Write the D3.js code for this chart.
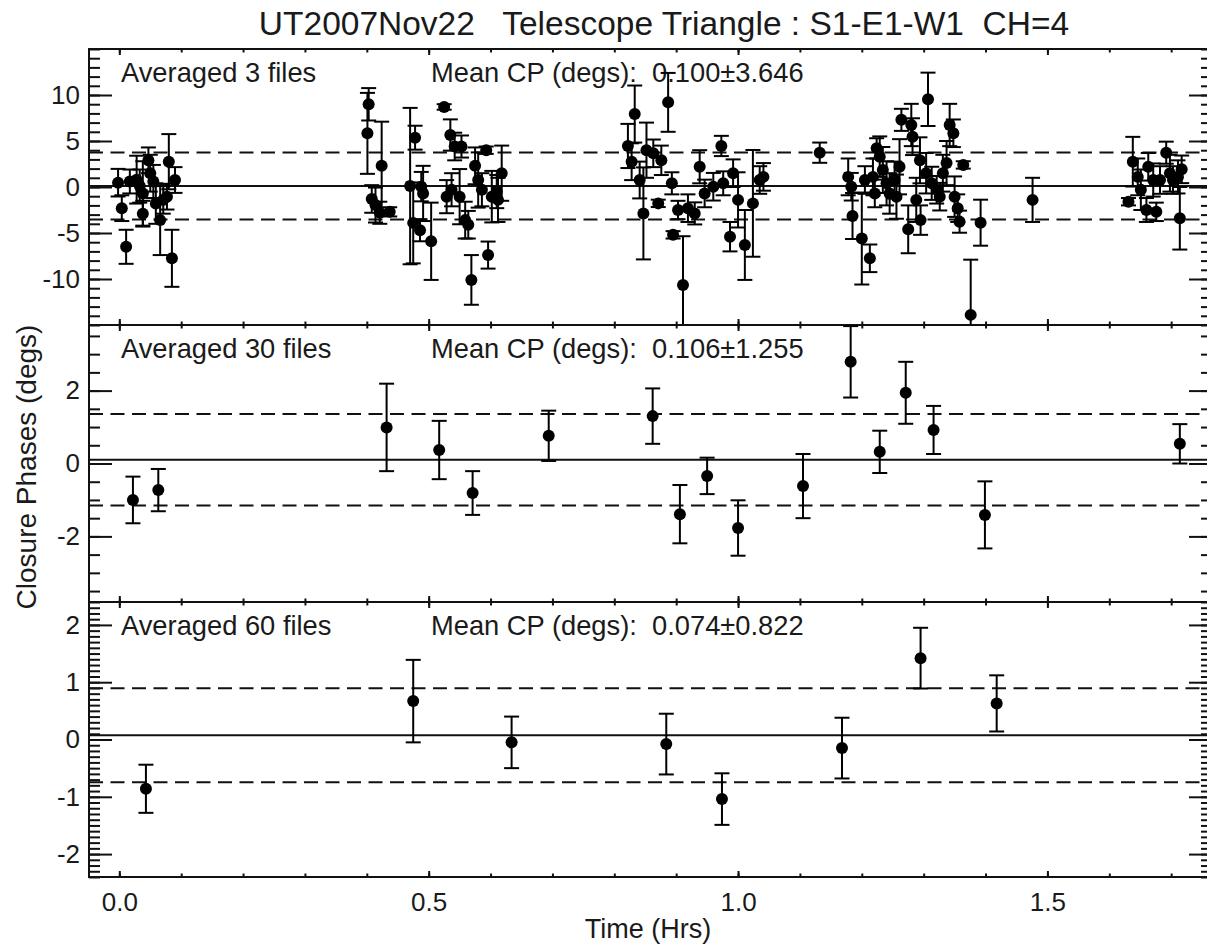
<!DOCTYPE html>
<html>
<head>
<meta charset="utf-8">
<script src="https://cdn.jsdelivr.net/npm/d3@7/dist/d3.min.js"></script>
<style>
  body { margin: 0; background: #fff; }
  svg text { font-family: "Liberation Sans", Arial, Helvetica, sans-serif; fill: #1a1a1a; }
</style>
</head>
<body>
<svg id="chart" width="1207" height="946"></svg>
<script>
// ---- data ----
// panel 1: averaged 3 files
var p1Time = [-0.002,0.004,0.011,0.017,0.028,0.033,0.038,0.038,0.047,0.050,0.055,0.059,0.066,0.071,0.077,0.080,0.085,0.090,
  0.401,0.403,0.408,0.414,0.421,0.424,0.437,0.470,0.475,0.478,0.486,0.488,0.491,0.504,0.525,0.529,0.535,0.537,0.542,0.550,0.553,0.559,0.564,0.569,0.575,0.580,0.586,0.593,0.596,0.602,0.610,0.612,0.618,
  0.822,0.828,0.833,0.841,0.847,0.852,0.863,0.871,0.876,0.887,0.893,0.895,0.903,0.911,0.919,0.930,0.938,0.946,0.960,0.973,0.976,0.987,0.992,1.000,1.011,1.024,1.035,1.041,
  1.132,1.178,1.183,1.185,1.200,1.205,1.213,1.218,1.221,1.224,1.229,1.234,1.240,1.245,1.253,1.256,1.261,1.264,1.275,1.280,1.282,1.288,1.294,1.295,1.304,1.307,1.313,1.321,1.326,1.331,1.337,1.342,1.348,1.350,1.355,1.358,1.364,1.376,1.392,
  1.476,
  1.631,1.638,1.646,1.651,1.660,1.663,1.671,1.676,1.682,1.692,1.698,1.703,1.711,1.714,1.717];
var p1Cp = [0.47,-2.3,-6.5,0.6,0.8,0.1,-2.9,-0.7,2.9,1.5,0.6,-1.8,-3.6,-1.4,-1.05,2.75,-7.75,0.76,
  5.83,8.99,-1.3,-1.96,-2.8,2.3,-2.7,0.1,-3.9,5.36,-4.7,0.04,-0.7,-5.9,8.7,-1.05,5.65,-0.3,4.4,-1.05,4.4,-3.6,-4.1,-10.1,2.3,0.76,-0.3,4.0,-7.4,-1.05,-0.5,-1.4,1.5,
  4.46,2.75,7.93,0.76,-2.87,4.0,3.66,-1.78,2.9,9.2,0.4,-5.2,-2.5,-10.65,-2.3,-2.87,2.2,-0.7,0.03,4.46,0.4,-5.4,1.5,-1.4,-6.3,-1.78,0.76,1.1,
  3.73,1.1,0.03,-3.15,-5.6,0.76,-7.75,1.1,-0.7,4.2,3.3,1.85,0.4,-0.7,0.76,-1.05,2.2,7.3,-4.6,6.74,5.47,-1.4,2.9,-3.6,1.5,9.53,0.4,-0.3,-1.05,1.5,2.6,6.74,5.84,-1.05,-2.3,-3.77,2.4,-13.9,-3.88,
  -1.4,
  -1.6,2.75,1.1,-0.3,-2.5,2.2,0.76,-2.7,0.76,3.73,1.5,0.76,1.1,-3.4,1.92];
var p1Err = [1.5,1.4,1.85,1.3,2.6,1.8,1.4,3.5,1.4,2.0,1.8,2.2,3.8,1.5,1.4,3.0,3.1,1.4,
  4.4,1.76,1.5,1.9,1.2,4.8,0.5,8.5,4.4,1.3,1.2,1.6,3.0,4.2,0.3,1.8,1.7,1.8,1.5,3.0,1.2,2.0,1.5,2.7,2.0,3.0,1.8,0.4,1.47,2.8,1.8,2.4,3.0,
  2.4,2.0,3.1,2.0,5.0,3.0,1.5,0.4,1.6,3.2,1.2,0.4,1.0,5.3,1.5,1.2,1.8,1.5,1.5,1.1,1.3,1.6,1.5,3.0,3.8,5.8,1.5,1.5,
  1.1,2.0,1.5,2.5,5.0,1.5,1.5,2.0,1.5,1.1,2.2,2.5,2.4,2.2,2.0,2.4,3.0,1.2,2.6,2.3,2.0,2.4,2.5,1.6,2.2,2.9,1.8,1.5,1.5,2.0,2.4,2.3,1.5,2.2,1.5,1.2,0.4,6.0,2.5,
  2.4,
  0.4,2.7,2.0,2.2,1.3,1.5,1.8,1.0,1.5,1.2,2.0,1.5,1.8,3.4,1.5];

// panel 2: averaged 30 files
var p2Time = [0.022,0.063,0.432,0.517,0.571,0.694,0.862,0.906,0.950,1.000,1.105,1.182,1.229,1.271,1.316,1.399,1.714];
var p2Cp   = [-1.00,-0.73,0.99,0.37,-0.81,0.76,1.30,-1.39,-0.34,-1.77,-0.62,2.79,0.32,1.94,0.92,-1.41,0.54];
var p2Err  = [0.64,0.58,1.20,0.80,0.60,0.69,0.76,0.80,0.50,0.76,0.88,0.98,0.58,0.85,0.66,0.92,0.54];

// panel 3: averaged 60 files
var p3Time = [0.043,0.475,0.634,0.884,0.974,1.168,1.295,1.418];
var p3Cp   = [-0.86,0.67,-0.05,-0.08,-1.04,-0.15,1.42,0.63];
var p3Err  = [0.42,0.72,0.45,0.53,0.45,0.53,0.53,0.49];

var fileCounts = [3, 30, 60];
var meanCp = [0.100, 0.106, 0.074];
var sigmaCp = [3.646, 1.255, 0.822];
var yLimits = [15, 3.8, 2.4];
var yMajorStep = [5, 2, 1];
var yMinorStep = [1, 0.5, 0.1];
var xMajorTicks = [0, 0.5, 1.0, 1.5];

var titleText = "UT2007Nov22   Telescope Triangle : S1-E1-W1  CH=4";

// ---- layout ----
var svg = d3.select("#chart");
var left = 89, right = 1212;
var panelTops = [49, 325, 602];
var panelH = [276, 277, 275];

var x = d3.scaleLinear().domain([-0.049, 1.766]).range([left, right]);

var panels = [
  {t: p1Time, v: p1Cp, e: p1Err},
  {t: p2Time, v: p2Cp, e: p2Err},
  {t: p3Time, v: p3Cp, e: p3Err}
];

function fmtY(d) { return String(d); }
function styleAxis(g) {
  g.select(".domain").remove();
  g.attr("font-family", null).attr("font-size", null);
  g.selectAll(".tick line").attr("stroke", "#111").attr("stroke-width", 2);
  g.selectAll(".tick text").attr("font-size", 26).style("fill", "#1a1a1a");
}

panels.forEach(function(p, i) {
  var top = panelTops[i], bot = top + panelH[i];
  var lim = yLimits[i];
  var y = d3.scaleLinear().domain([-lim, lim]).range([bot, top]);
  var g = svg.append("g");

  var clipId = "clip" + i;
  svg.append("clipPath").attr("id", clipId)
    .append("rect").attr("x", left).attr("y", top).attr("width", right - left).attr("height", bot - top);

  // labelled ticks stay inside the range (no label on the frame edge)
  var majors = d3.range(-Math.floor(lim / yMajorStep[i]) * yMajorStep[i], lim + 1e-6, yMajorStep[i])
    .filter(function(d) { return Math.abs(d) < lim - 1e-6; });
  var minors = d3.range(-Math.floor(lim / yMinorStep[i] + 1e-6) * yMinorStep[i], lim + 1e-6, yMinorStep[i])
    .map(function(d) { return +d.toFixed(2); });
  var xMinors = d3.range(0, 1.76, 0.1).map(function(d) { return +d.toFixed(1); });

  // y axes, left and right, ticks pointing inward
  g.append("g").attr("transform", "translate(" + left + ",0)")
    .call(d3.axisLeft(y).tickValues(minors).tickSize(-11).tickSizeOuter(0).tickFormat("")).call(styleAxis);
  g.append("g").attr("transform", "translate(" + left + ",0)")
    .call(d3.axisLeft(y).tickValues(majors).tickSize(-23).tickSizeOuter(0).tickPadding(9).tickFormat(fmtY)).call(styleAxis);
  g.append("g").attr("transform", "translate(" + right + ",0)")
    .call(d3.axisRight(y).tickValues(minors).tickSize(-11).tickSizeOuter(0).tickFormat("")).call(styleAxis);
  g.append("g").attr("transform", "translate(" + right + ",0)")
    .call(d3.axisRight(y).tickValues(majors).tickSize(-23).tickSizeOuter(0).tickFormat("")).call(styleAxis);

  // x axes top and bottom
  g.append("g").attr("transform", "translate(0," + top + ")")
    .call(d3.axisTop(x).tickValues(xMinors).tickSize(-3.5).tickSizeOuter(0).tickFormat("")).call(styleAxis);
  g.append("g").attr("transform", "translate(0," + top + ")")
    .call(d3.axisTop(x).tickValues(xMajorTicks).tickSize(-6).tickSizeOuter(0).tickFormat("")).call(styleAxis);
  g.append("g").attr("transform", "translate(0," + bot + ")")
    .call(d3.axisBottom(x).tickValues(xMinors).tickSize(-3.5).tickSizeOuter(0).tickFormat("")).call(styleAxis);
  g.append("g").attr("transform", "translate(0," + bot + ")")
    .call(d3.axisBottom(x).tickValues(xMajorTicks).tickSize(-6).tickSizeOuter(0).tickPadding(16)
      .tickFormat(i === 2 ? d3.format(".1f") : "")).call(styleAxis);

  // frame
  g.append("rect").attr("x", left).attr("y", top).attr("width", right - left).attr("height", bot - top)
    .attr("fill", "none").attr("stroke", "#111").attr("stroke-width", 2);

  // mean and +-sigma lines
  var lines = g.append("g").attr("clip-path", "url(#" + clipId + ")");
  lines.append("line").attr("x1", left).attr("x2", right)
    .attr("y1", y(meanCp[i])).attr("y2", y(meanCp[i]))
    .attr("stroke", "#111").attr("stroke-width", 2);
  [meanCp[i] + sigmaCp[i], meanCp[i] - sigmaCp[i]].forEach(function(v) {
    lines.append("line").attr("x1", left).attr("x2", right)
      .attr("y1", y(v)).attr("y2", y(v))
      .attr("stroke", "#111").attr("stroke-width", 2).attr("stroke-dasharray", "14,7.5");
  });

  // labels
  g.append("text").attr("x", 121).attr("y", top + 33).attr("font-size", 27.3)
    .text("Averaged " + fileCounts[i] + " files");
  g.append("text").attr("x", 431).attr("y", top + 33).attr("font-size", 27.3)
    .style("white-space", "pre")
    .text("Mean CP (degs):  " + meanCp[i].toFixed(3) + "\u00b1" + sigmaCp[i].toFixed(3));

  // data: error bars + dots
  var pts = p.t.map(function(t, k) { return {t: t, v: p.v[k], e: p.e[k]}; });
  var dg = g.append("g").attr("clip-path", "url(#" + clipId + ")");
  var eb = dg.selectAll("g.eb").data(pts).enter().append("g").attr("class", "eb")
    .attr("stroke", "#000").attr("stroke-width", 2);
  eb.append("line")
    .attr("x1", function(d) { return x(d.t); }).attr("x2", function(d) { return x(d.t); })
    .attr("y1", function(d) { return y(d.v - d.e); }).attr("y2", function(d) { return y(d.v + d.e); });
  eb.append("line")
    .attr("x1", function(d) { return x(d.t) - 7.5; }).attr("x2", function(d) { return x(d.t) + 7.5; })
    .attr("y1", function(d) { return y(d.v + d.e); }).attr("y2", function(d) { return y(d.v + d.e); });
  eb.append("line")
    .attr("x1", function(d) { return x(d.t) - 7.5; }).attr("x2", function(d) { return x(d.t) + 7.5; })
    .attr("y1", function(d) { return y(d.v - d.e); }).attr("y2", function(d) { return y(d.v - d.e); });
  dg.selectAll("circle").data(pts).enter().append("circle")
    .attr("cx", function(d) { return x(d.t); }).attr("cy", function(d) { return y(d.v); })
    .attr("r", 6).attr("fill", "#000");
});

// titles
svg.append("text").attr("x", 664).attr("y", 35).attr("text-anchor", "middle").attr("font-size", 33.5)
  .style("white-space", "pre").text(titleText);
svg.append("text").attr("x", 648).attr("y", 938).attr("text-anchor", "middle").attr("font-size", 27)
  .text("Time (Hrs)");
svg.append("text").attr("transform", "translate(36,467) rotate(-90)").attr("text-anchor", "middle")
  .attr("font-size", 28).text("Closure Phases (degs)");
</script>
</body>
</html>
